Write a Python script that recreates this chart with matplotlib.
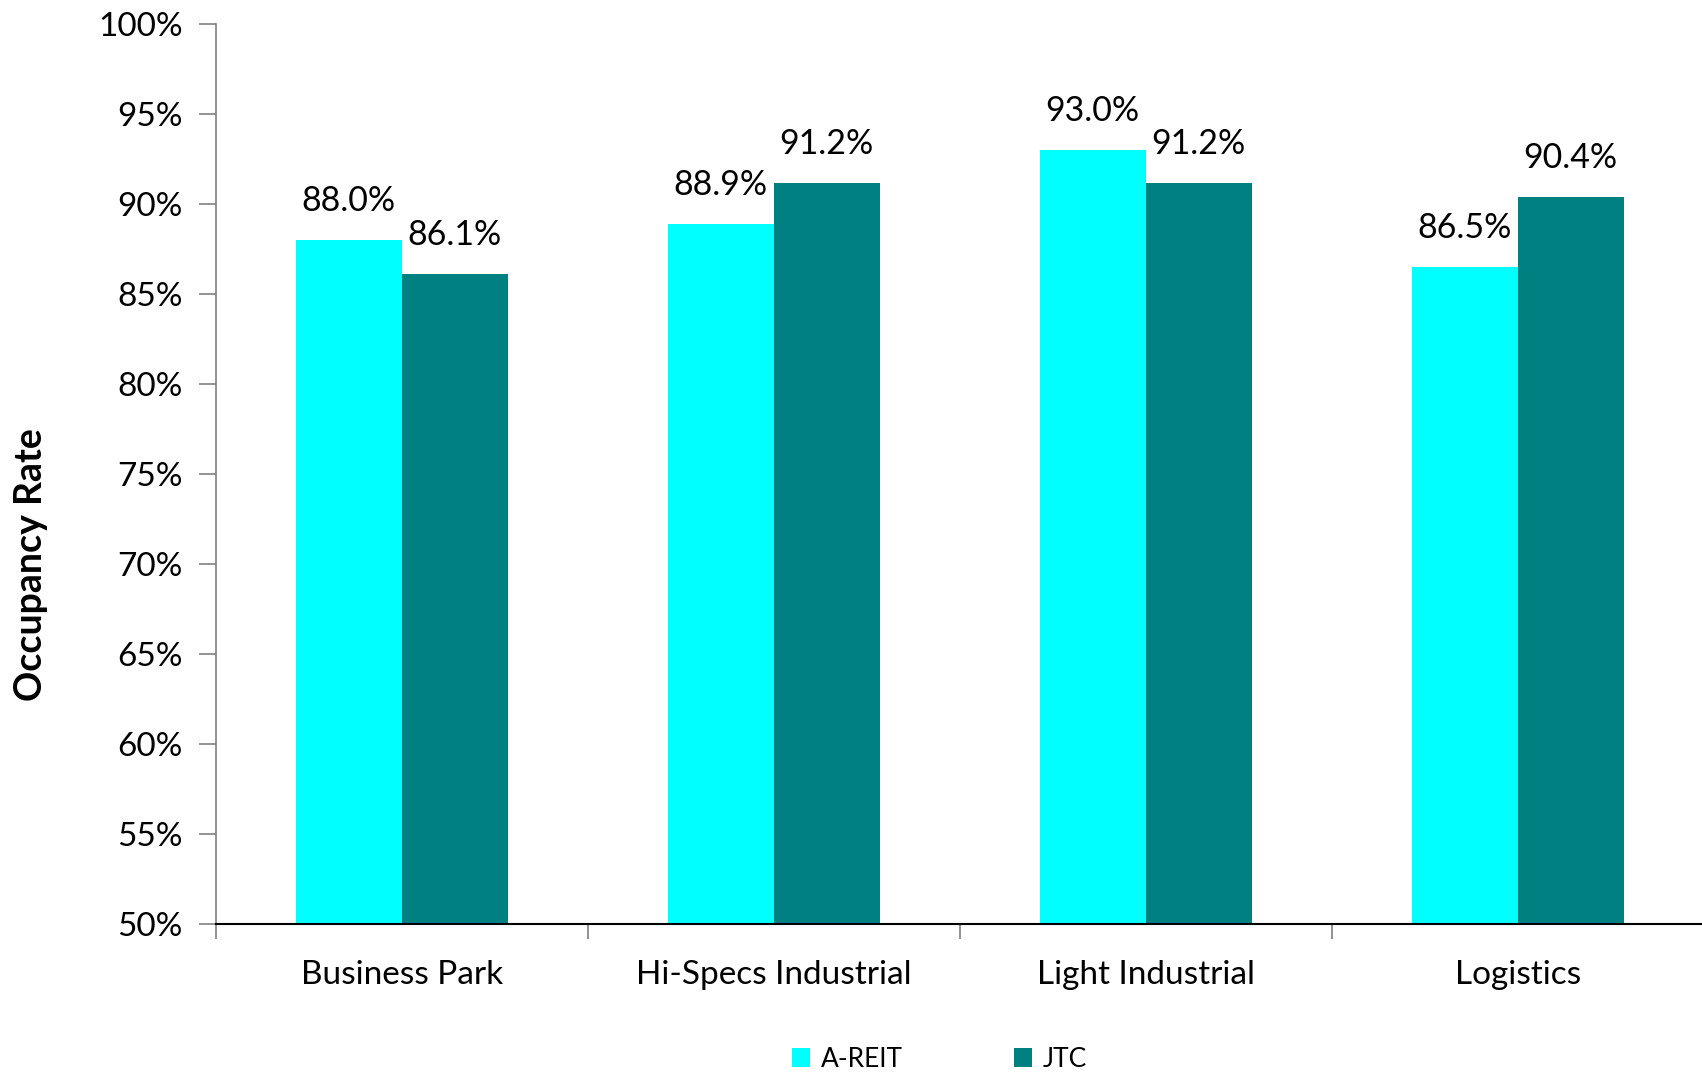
import matplotlib
matplotlib.use("Agg")
from matplotlib import pyplot as plt
from matplotlib.ticker import FuncFormatter, FixedLocator
import numpy as np

# occupancy by segment, A-REIT vs JTC
categories = ["Business Park", "Hi-Specs Industrial", "Light Industrial", "Logistics"]
areit = [88.0, 88.9, 93.0, 86.5]
jtc = [86.1, 91.2, 91.2, 90.4]

plt.rcParams["font.family"] = ["Lato", "DejaVu Sans"]


def main():
    fig = plt.figure(figsize=(17.02, 10.73), dpi=100)
    ax = fig.add_axes([0.1269, 0.1392, 0.874, 0.8382])

    x = np.arange(len(categories))
    w = 0.285
    b1 = ax.bar(x - w / 2, areit, w, color="#00FFFF", label="A-REIT")
    b2 = ax.bar(x + w / 2, jtc, w, color="#008080", label="JTC")

    for bars, vals in ((b1, areit), (b2, jtc)):
        for r, v in zip(bars, vals):
            ax.annotate(f"{v:.1f}%", (r.get_x() + r.get_width() / 2, v),
                        xytext=(0, 28), textcoords="offset points",
                        ha="center", va="center", fontsize=24.5)

    ax.set_ylim(50, 100)
    ax.set_yticks(np.arange(50, 101, 5))
    ax.yaxis.set_major_formatter(FuncFormatter(lambda v, p: f"{v:.0f}%"))
    ax.set_xlim(-0.5, 3.5)
    ax.set_xticks(x)
    ax.set_xticklabels(categories)
    ax.xaxis.set_minor_locator(FixedLocator([-0.5, 0.5, 1.5, 2.5]))

    ax.tick_params(axis="y", labelsize=24, length=12, width=1.2, pad=12, color="#808080")
    ax.tick_params(axis="x", which="major", labelsize=24, length=0, pad=26)
    ax.tick_params(axis="x", which="minor", length=11, width=1.2, color="#808080")

    for s in ("top", "right"):
        ax.spines[s].set_visible(False)
    ax.spines["left"].set_color("#808080")
    ax.spines["left"].set_linewidth(1.2)
    ax.spines["bottom"].set_color("black")
    ax.spines["bottom"].set_linewidth(1.5)

    fig.text(0.018, 0.474, "Occupancy Rate", rotation=90, ha="center", va="center",
             fontsize=27, fontweight="bold")

    fig.legend(loc="center", bbox_to_anchor=(0.552, 0.013), ncol=2, frameon=False,
               fontsize=19, handlelength=0.7, handleheight=0.7, handletextpad=0.4,
               columnspacing=4.2)

    fig.savefig("out.png", dpi=100)


if __name__ == "__main__":
    main()
